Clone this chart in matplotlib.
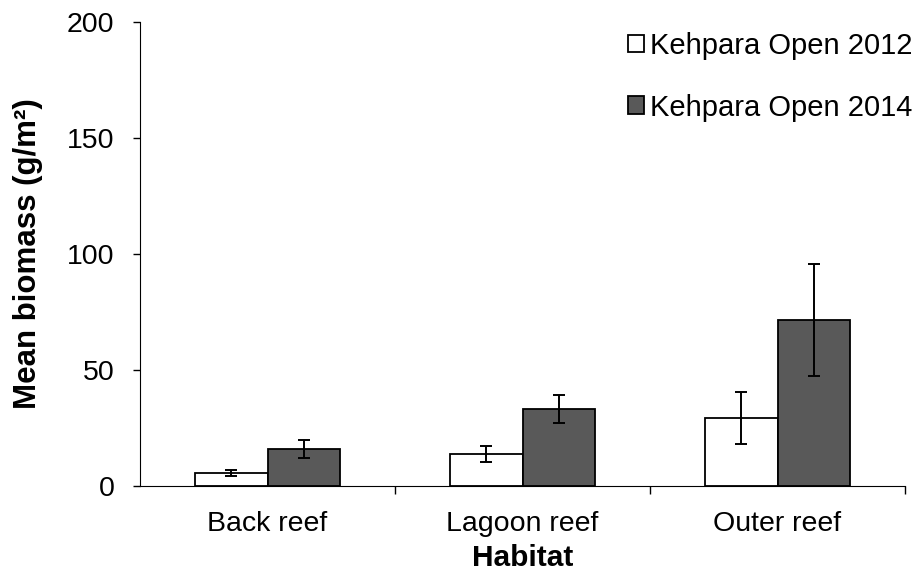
import numpy as np
import matplotlib.pyplot as plt

plt.rcParams['font.family'] = ['Liberation Sans', 'DejaVu Sans']

habitats = ["Back reef", "Lagoon reef", "Outer reef"]
mean_2012 = [5.6, 13.8, 29.4]
err_2012 = [1.1, 3.5, 11.1]
mean_2014 = [15.9, 33.2, 71.6]
err_2014 = [3.9, 6.1, 24.0]

fig = plt.figure(figsize=(9.17, 5.75), dpi=100)
ax = fig.add_axes([140/917, 89/575, 765/917, 464/575])

x = np.arange(len(habitats))
w = 0.286
ekw = dict(elinewidth=1.4, capthick=1.4)
ax.bar(x - w/2, mean_2012, w, color="white", edgecolor="black", lw=1.3,
       yerr=err_2012, capsize=4.5, error_kw=ekw, label="Kehpara Open 2012")
ax.bar(x + w/2, mean_2014, w, color="#595959", edgecolor="black", lw=1.3,
       yerr=err_2014, capsize=4.5, error_kw=ekw, label="Kehpara Open 2014")

ax.set_xlim(-0.5, 2.5)
ax.set_ylim(0, 200)
ax.set_yticks([0, 50, 100, 150, 200])
ax.set_xticks(x)
ax.set_xticklabels(habitats)
ax.tick_params(axis="x", length=0, labelsize=20.5, pad=18)
ax.tick_params(axis="y", labelsize=20.5, length=5, width=1, pad=13.5)
# ticks between categories
ax.set_xticks([0.5, 1.5, 2.5], minor=True)
ax.tick_params(axis="x", which="minor", length=6, width=1)

for s in ["top", "right"]:
    ax.spines[s].set_visible(False)

ax.set_xlabel("Habitat", fontsize=21.5, fontweight="bold", labelpad=5)
ax.set_ylabel("Mean biomass (g/m²)", fontsize=22.5, fontweight="bold", labelpad=17)

ax.legend(loc="upper right", bbox_to_anchor=(1.044, 1.035), frameon=False, fontsize=21,
          handlelength=0.55, handleheight=0.55, handletextpad=0.2, labelspacing=1.15)

fig.savefig("out.png", dpi=100)
